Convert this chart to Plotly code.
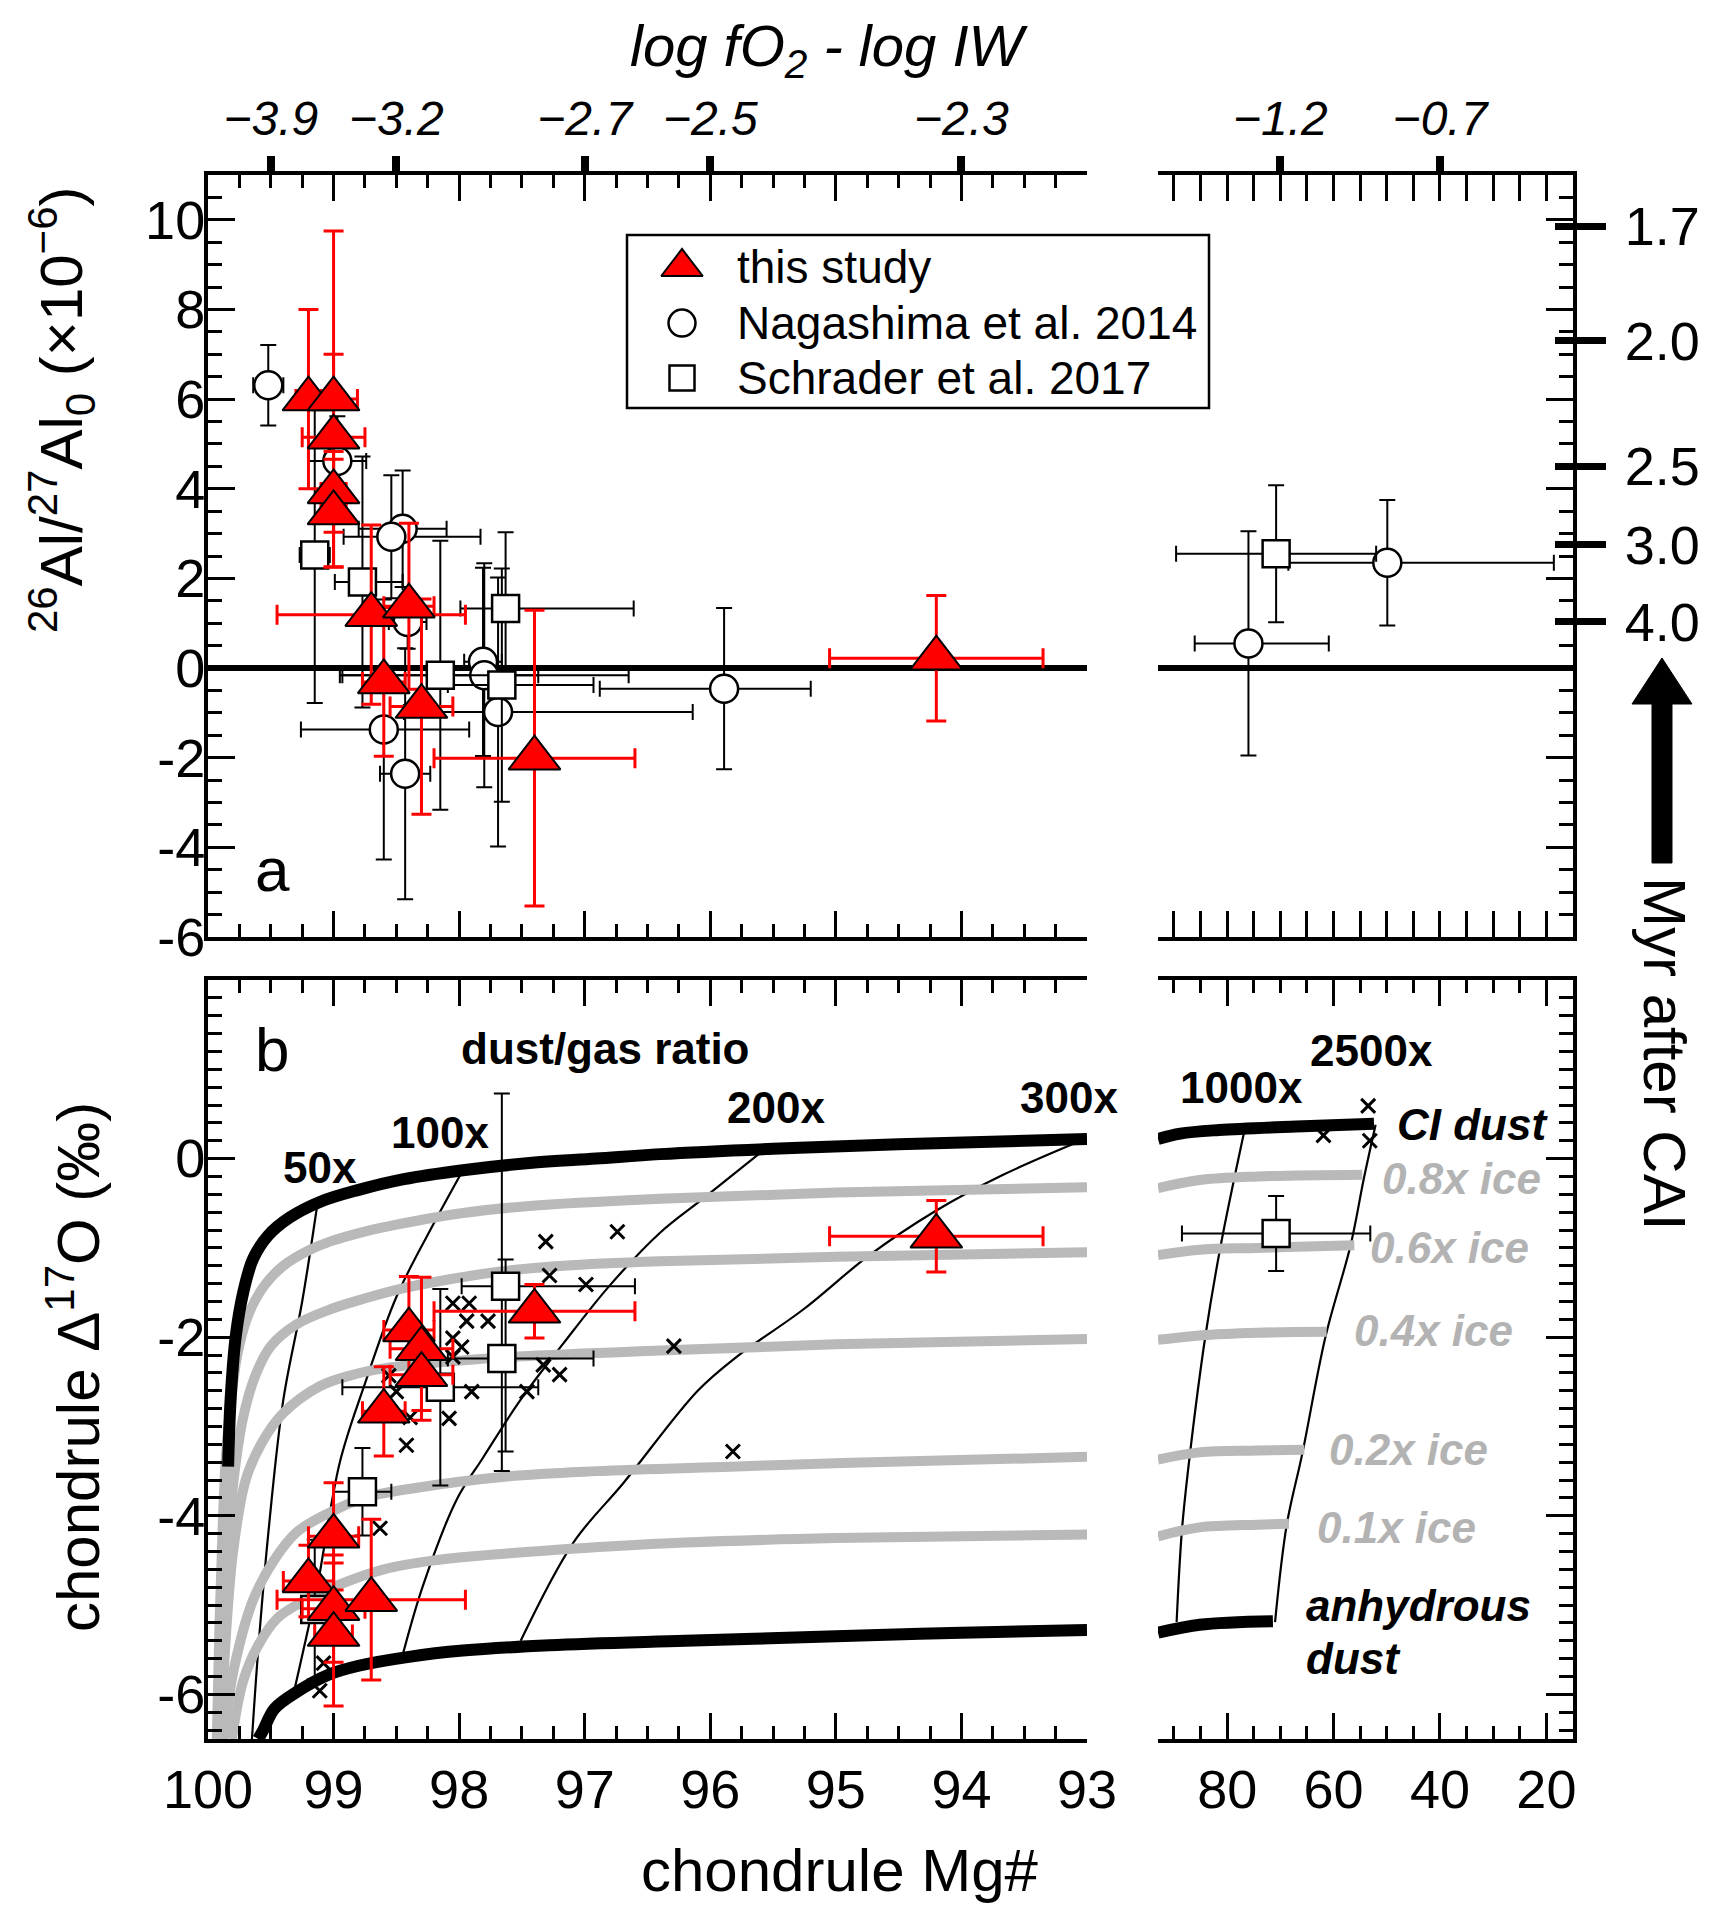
import plotly.graph_objects as go

W, H = 1712, 1920
OFF = 8  # the page body margin shifts the figure by this many pixels
FONT = "Liberation Sans, Arial, Helvetica, sans-serif"
RED = "#ff0000"
GRAY = "#b9b9b9"
GRAYTXT = "#b3b3b3"

# ---------------- tick / axis label data ----------------
mg_left_ticks = [100, 99, 98, 97, 96, 95, 94, 93]
mg_left_labels = ["100", "99", "98", "97", "96", "95", "94", "93"]
mg_right_ticks = [80, 60, 40, 20]
mg_right_labels = ["80", "60", "40", "20"]
al_ticks = [-6, -4, -2, 0, 2, 4, 6, 8, 10]
al_labels = ["-6", "-4", "-2", "0", "2", "4", "6", "8", "10"]
d17_ticks = [-6, -4, -2, 0]
d17_labels = ["-6", "-4", "-2", "0"]
fo2_mg_left = [99.5, 98.5, 97.0, 96.0, 94.0]
fo2_labels_left = ["−3.9", "−3.2", "−2.7", "−2.5", "−2.3"]
fo2_mg_right = [70, 40]
fo2_labels_right = ["−1.2", "−0.7"]
myr_al = [9.85, 7.3, 4.5, 2.75, 1.03]
myr_labels = ["1.7", "2.0", "2.5", "3.0", "4.0"]

# ---------------- panel a: 26Al/27Al0 ----------------
# this study
ts_a_mg = [99.2, 99.0, 99.0, 99.0, 99.0, 98.7, 98.4, 98.6, 98.3, 97.4, 94.2]
ts_a_al = [6.0, 6.0, 5.15, 3.93, 3.46, 1.19, 1.38, -0.31, -0.86, -2.01, 0.22]
ts_a_emg = [0.1, 0.19, 0.25, 0.1, 0.1, 0.75, 0.2, 0.17, 0.25, 0.8, 0.85]
ts_a_eal = [2.0, 3.75, 1.85, 0.9, 1.2, 2.0, 1.85, 1.66, 2.4, 3.3, 1.4]
# Nagashima et al. 2014 (left part)
na_a_mg = [99.52, 98.97, 98.45, 98.54, 98.41, 97.81, 97.80, 97.69, 98.60, 98.43, 95.89]
na_a_al = [6.31, 4.62, 3.11, 2.93, 1.03, 0.14, -0.16, -0.98, -1.37, -2.36, -0.46]
na_a_emg_p = [0.12, 0.23, 0.35, 0.38, 0.15, 0.15, 1.15, 0.75, 0.66, 0.2, 0.99]
na_a_emg_m = [0.12, 0.23, 0.35, 0.71, 0.15, 0.15, 1.15, 1.55, 0.68, 0.2, 0.69]
na_a_eal = [0.9, 1.0, 1.3, 1.37, 0.6, 2.1, 2.5, 3.0, 2.9, 2.8, 1.8]
# Nagashima et al. 2014 (right part)
na_a_mg_r = [76.0, 49.9]
na_a_al_r = [0.55, 2.35]
na_a_emg_p_r = [10.1, 18.6]
na_a_emg_m_r = [15.1, 31.3]
na_a_eal_r = [2.5, 1.4]
# Schrader et al. 2017 (left part)
sc_a_mg = [99.15, 98.77, 97.63, 98.15, 97.66]
sc_a_al = [2.52, 1.92, 1.33, -0.16, -0.38]
sc_a_emg_p = [0.12, 0.22, 0.36, 0.78, 0.43]
sc_a_emg_m = [0.12, 0.32, 1.02, 0.78, 0.73]
sc_a_eal = [3.3, 2.8, 1.7, 3.0, 2.6]
# Schrader et al. 2017 (right part)
sc_a_mg_r = [70.8]
sc_a_al_r = [2.55]
sc_a_emg_r = [18.8]
sc_a_eal_r = [1.53]

# ---------------- panel b: D17O ----------------
ts_b_mg = [99.2, 99.0, 99.0, 99.0, 98.7, 98.6, 98.4, 98.3, 98.3, 97.4, 94.2]
ts_b_d = [-4.73, -4.23, -5.04, -5.33, -4.94, -2.83, -1.92, -2.13, -2.42, -1.71, -0.87]
ts_b_emg = [0.2, 0.2, 0.25, 0.15, 0.75, 0.17, 0.2, 0.25, 0.25, 0.8, 0.85]
ts_b_ed = [0.4, 0.6, 0.6, 0.8, 0.9, 0.5, 0.6, 0.8, 0.4, 0.3, 0.4]

sc_b_mg = [99.15, 98.77, 98.15, 97.63, 97.66]
sc_b_d = [-5.05, -3.73, -2.56, -1.43, -2.24]
sc_b_emg_p = [0.1, 0.23, 0.78, 0.35, 0.43]
sc_b_emg_m = [0.1, 0.23, 0.78, 1.03, 0.73]
sc_b_ed_p = [0.78, 0.49, 1.1, 0.3, 2.97]
sc_b_ed_m = [0.78, 0.49, 1.1, 1.85, 1.26]
sc_b_mg_r = [70.8]
sc_b_d_r = [-0.84]
sc_b_emg_r = [17.7]
sc_b_ed_r = [0.42]

# literature chondrules (crosses)
lit_mg = [97.31, 96.74, 97.28, 96.99, 98.05, 97.92, 97.94, 97.77, 98.05, 97.98,
          98.05, 97.33, 97.20, 97.90, 97.46, 98.50, 98.08, 98.39, 98.42, 98.56,
          98.63, 99.08, 99.11, 96.29, 95.82]
lit_d = [-0.93, -0.82, -1.31, -1.41, -1.62, -1.62, -1.82, -1.82, -2.01, -2.11,
         -2.22, -2.31, -2.42, -2.61, -2.61, -2.61, -2.91, -2.90, -3.21, -2.43,
         -4.14, -5.65, -5.96, -2.10, -3.28]
lit_mg_r = [53.5, 61.9, 53.2]
lit_d_r = [0.59, 0.26, 0.20]

# model curves (Mg#, D17O)
ci_dust = [(99.84, -3.45), (99.82, -2.7), (99.78, -2.0), (99.72, -1.5), (99.64, -1.12),
           (99.52, -0.86), (99.35, -0.66), (99.1, -0.48), (98.8, -0.35), (98.44, -0.23),
           (97.97, -0.13), (97.44, -0.05), (96.91, 0.0), (96.4, 0.05),
           (95.5, 0.11), (94.5, 0.16), (93.0, 0.22)]
ice08 = [(99.93, -6.5), (99.91, -5.3), (99.885, -4.2), (99.86, -3.4), (99.82, -2.75),
         (99.76, -2.15), (99.67, -1.72), (99.55, -1.42), (99.4, -1.2), (99.2, -1.03),
         (99.03, -0.93), (98.76, -0.82), (98.5, -0.74), (97.97, -0.61), (97.44, -0.53),
         (96.4, -0.45), (95.0, -0.38), (93.0, -0.32)]
ice06 = [(99.92, -6.5), (99.89, -5.5), (99.85, -4.5), (99.80, -3.65), (99.72, -2.9),
         (99.62, -2.42), (99.5, -2.1), (99.3, -1.86), (99.03, -1.69), (98.76, -1.57),
         (98.5, -1.47), (98.23, -1.39), (97.7, -1.27), (97.17, -1.2), (96.4, -1.15),
         (95.0, -1.1), (93.0, -1.05)]
ice04 = [(99.90, -6.5), (99.86, -5.4), (99.80, -4.4), (99.70, -3.6), (99.57, -3.18),
         (99.40, -2.85), (99.11, -2.55), (98.87, -2.43), (98.6, -2.35), (97.97, -2.26),
         (97.44, -2.21), (96.4, -2.15), (95.0, -2.08), (93.0, -2.02)]
ice02 = [(99.88, -6.5), (99.79, -5.69), (99.64, -4.94), (99.47, -4.49), (99.29, -4.18),
         (99.04, -3.97), (98.76, -3.80), (98.4, -3.70), (97.62, -3.56), (96.91, -3.50),
         (95.84, -3.45), (94.95, -3.41), (93.0, -3.34)]
ice01 = [(99.81, -6.5), (99.72, -5.85), (99.6, -5.45), (99.45, -5.15), (99.27, -4.98),
         (98.97, -4.78), (98.6, -4.6), (98.2, -4.5), (97.6, -4.42), (97.0, -4.36),
         (96.2, -4.30), (95.0, -4.25), (93.0, -4.21)]
anhydrous = [(99.60, -6.5), (99.56, -6.40), (99.47, -6.16), (99.29, -5.97), (99.04, -5.78),
             (98.8, -5.68), (98.4, -5.58), (97.97, -5.51), (97.28, -5.45), (96.2, -5.40),
             (95.0, -5.35), (94.0, -5.31), (93.0, -5.28)]
ci_dust_r = [(93.0, 0.22), (88.8, 0.28), (81.5, 0.32), (67.0, 0.36), (52.4, 0.39)]
ice08_r = [(93.0, -0.33), (85.2, -0.24), (74.3, -0.20), (54.6, -0.18)]
ice06_r = [(93.0, -1.08), (85.2, -1.02), (74.3, -1.0), (56.1, -0.97)]
ice04_r = [(93.0, -2.03), (85.2, -1.98), (74.3, -1.95), (61.3, -1.94)]
ice02_r = [(93.0, -3.37), (85.2, -3.29), (74.3, -3.27), (65.5, -3.26)]
ice01_r = [(93.0, -4.23), (85.2, -4.13), (74.3, -4.10), (68.4, -4.09)]
anhydrous_r = [(93.0, -5.31), (85.2, -5.22), (71.4, -5.18)]
dg50 = [(99.13, -0.52), (99.25, -1.6), (99.40, -2.70), (99.52, -4.2), (99.60, -5.5), (99.65, -6.5)]
dg100 = [(97.97, -0.13), (98.23, -0.80), (98.50, -1.55), (98.76, -2.56), (98.95, -3.40),
         (99.13, -4.79), (99.27, -5.69), (99.32, -6.0)]
dg200 = [(95.57, 0.10), (96.05, -0.44), (96.40, -0.83), (96.8, -1.42), (97.17, -2.07),
         (97.51, -2.70), (97.81, -3.35), (98.02, -3.82), (98.29, -4.79), (98.45, -5.56)]
dg300 = [(93.03, 0.21), (93.68, -0.19), (94.21, -0.59), (94.74, -1.09), (95.26, -1.69),
         (95.79, -2.22), (96.1, -2.6), (96.69, -3.63), (97.09, -4.30), (97.51, -5.40)]
dg1000 = [(76.8, 0.30), (81.2, -0.97), (84.1, -1.99), (87.0, -3.31), (88.5, -4.16), (89.5, -5.19)]
dg2500 = [(52.1, 0.38), (54.3, -0.22), (56.8, -0.97), (61.5, -1.99), (65.9, -3.31),
          (68.8, -4.10), (71.0, -5.19)]


# ---------------- helpers (page pixel -> paper fraction) ----------------
def px(X):
    return (X - OFF) / W


def py(Y):
    return 1 - (Y - OFF) / H


def err(plus, minus=None, color="black", thick=2, width=8):
    d = dict(type="data", array=plus, color=color, thickness=thick, width=width, visible=True)
    if minus is not None:
        d.update(symmetric=False, arrayminus=minus)
    return d


CIRCLE = dict(symbol="circle", size=28, color="white", line=dict(color="black", width=2.5))
SQUARE = dict(symbol="square", size=27, color="white", line=dict(color="black", width=2.5))
TRI = dict(symbol="triangle-up", size=45, color=RED, line=dict(color="black", width=2))
CROSS = dict(symbol="x-thin", size=14, color="black", line=dict(color="black", width=3))

fig = go.Figure()


def curve(pts, xa, ya, color, width):
    fig.add_trace(go.Scatter(x=[p[0] for p in pts], y=[p[1] for p in pts], mode="lines",
                             line=dict(color=color, width=width, shape="spline", smoothing=1.0),
                             xaxis=xa, yaxis=ya, hoverinfo="skip", showlegend=False))


# ---- panel b curves ----
for pts in [dg50, dg100, dg200, dg300]:
    curve(pts, "x3", "y3", "black", 2.2)
for pts in [dg1000, dg2500]:
    curve(pts, "x4", "y4", "black", 2.2)
for pts in [ice08, ice06, ice04, ice02, ice01]:
    curve(pts, "x3", "y3", GRAY, 10)
for pts in [ice08_r, ice06_r, ice04_r, ice02_r, ice01_r]:
    curve(pts, "x4", "y4", GRAY, 10)
curve(ci_dust, "x3", "y3", "black", 12)
curve(anhydrous, "x3", "y3", "black", 12)
curve(ci_dust_r, "x4", "y4", "black", 12)
curve(anhydrous_r, "x4", "y4", "black", 12)

# ---- panel a points ----
fig.add_trace(go.Scatter(x=na_a_mg, y=na_a_al, mode="markers", marker=CIRCLE, xaxis="x", yaxis="y",
                         error_x=err(na_a_emg_p, na_a_emg_m), error_y=err(na_a_eal),
                         name="Nagashima et al. 2014", showlegend=False))
fig.add_trace(go.Scatter(x=na_a_mg_r, y=na_a_al_r, mode="markers", marker=CIRCLE, xaxis="x2", yaxis="y2",
                         error_x=err(na_a_emg_p_r, na_a_emg_m_r), error_y=err(na_a_eal_r),
                         showlegend=False))
fig.add_trace(go.Scatter(x=sc_a_mg, y=sc_a_al, mode="markers", marker=SQUARE, xaxis="x", yaxis="y",
                         error_x=err(sc_a_emg_p, sc_a_emg_m), error_y=err(sc_a_eal),
                         name="Schrader et al. 2017", showlegend=False))
fig.add_trace(go.Scatter(x=sc_a_mg_r, y=sc_a_al_r, mode="markers", marker=SQUARE, xaxis="x2", yaxis="y2",
                         error_x=err(sc_a_emg_r), error_y=err(sc_a_eal_r), showlegend=False))
fig.add_trace(go.Scatter(x=ts_a_mg, y=ts_a_al, mode="markers", marker=TRI, xaxis="x", yaxis="y",
                         error_x=err(ts_a_emg, color=RED, thick=3, width=10),
                         error_y=err(ts_a_eal, color=RED, thick=3, width=10),
                         name="this study", showlegend=False))

# ---- panel b points ----
fig.add_trace(go.Scatter(x=lit_mg, y=lit_d, mode="markers", marker=CROSS, xaxis="x3", yaxis="y3",
                         showlegend=False))
fig.add_trace(go.Scatter(x=lit_mg_r, y=lit_d_r, mode="markers", marker=CROSS, xaxis="x4", yaxis="y4",
                         showlegend=False))
fig.add_trace(go.Scatter(x=sc_b_mg, y=sc_b_d, mode="markers", marker=SQUARE, xaxis="x3", yaxis="y3",
                         error_x=err(sc_b_emg_p, sc_b_emg_m), error_y=err(sc_b_ed_p, sc_b_ed_m),
                         showlegend=False))
fig.add_trace(go.Scatter(x=sc_b_mg_r, y=sc_b_d_r, mode="markers", marker=SQUARE, xaxis="x4", yaxis="y4",
                         error_x=err(sc_b_emg_r), error_y=err(sc_b_ed_r), showlegend=False))
fig.add_trace(go.Scatter(x=ts_b_mg, y=ts_b_d, mode="markers", marker=TRI, xaxis="x3", yaxis="y3",
                         error_x=err(ts_b_emg, color=RED, thick=3, width=10),
                         error_y=err(ts_b_ed, color=RED, thick=3, width=10), showlegend=False))

# ---- empty traces so the overlay axes are drawn ----
for xa, ya in [("x5", "y"), ("x6", "y2"), ("x2", "y5"), ("x2", "y6")]:
    fig.add_trace(go.Scatter(x=[], y=[], xaxis=xa, yaxis=ya, showlegend=False, hoverinfo="skip"))

# ---- custom legend symbols ----
leg_labels = ["this study", "Nagashima et al. 2014", "Schrader et al. 2017"]
leg_rows = [0.815, 0.491, 0.173]
leg_markers = [dict(TRI, size=36), dict(CIRCLE, size=27), dict(SQUARE, size=25)]
for yy, mk in zip(leg_rows, leg_markers):
    fig.add_trace(go.Scatter(x=[0.0945], y=[yy], mode="markers", marker=mk, xaxis="x7", yaxis="y7",
                             cliponaxis=False, showlegend=False, hoverinfo="skip"))

# ---------------- layout ----------------
XL = [px(208), px(1087)]
XR = [px(1158), px(1573)]
YA = [py(937), py(175)]
YB = [py(1739), py(980)]

base = dict(showline=True, linewidth=4, linecolor="black", showgrid=False, zeroline=False,
            ticks="inside", tickcolor="black", tickwidth=3, automargin=False,
            tickfont=dict(family=FONT, size=54, color="black"))


def minor(dt, t0, ln):
    return dict(ticks="inside", ticklen=ln, tickwidth=3, tickcolor="black", dtick=dt, tick0=t0, showgrid=False)


overlay = dict(showline=False, showgrid=False, zeroline=False, tickcolor="black", automargin=False)

fig.update_layout(
    width=W, height=H, margin=dict(l=0, r=0, t=0, b=0, pad=0, autoexpand=False),
    paper_bgcolor="white", plot_bgcolor="white", showlegend=False,
    font=dict(family=FONT, color="black"),
    xaxis=dict(base, domain=XL, range=[100, 93], anchor="y", mirror="allticks",
               tickmode="array", tickvals=mg_left_ticks, ticklen=26, showticklabels=False,
               minor=minor(0.25, 100, 13)),
    yaxis=dict(base, domain=YA, range=[-6, 11], anchor="x", tickmode="array",
               tickvals=al_ticks, ticktext=al_labels, ticklen=27, ticklabelstandoff=-12,
               minor=minor(0.5, -6, 14)),
    xaxis2=dict(base, domain=XR, range=[93, 15], anchor="y2", mirror="allticks",
                tickmode="array", tickvals=mg_right_ticks, ticklen=26, showticklabels=False,
                minor=minor(5, 0, 13)),
    yaxis2=dict(base, domain=YA, range=[-6, 11], anchor="x2", side="right", tickmode="array",
                tickvals=al_ticks, ticklen=27, showticklabels=False, minor=minor(0.5, -6, 14)),
    xaxis3=dict(base, domain=XL, range=[100, 93], anchor="y3", mirror="allticks",
                tickmode="array", tickvals=mg_left_ticks, ticktext=mg_left_labels, ticklen=26,
                ticklabelstandoff=0, minor=minor(0.25, 100, 13)),
    yaxis3=dict(base, domain=YB, range=[-6.5, 2], anchor="x3", tickmode="array",
                tickvals=d17_ticks, ticktext=d17_labels, ticklen=27, ticklabelstandoff=-12,
                minor=minor(0.2, 0, 14)),
    xaxis4=dict(base, domain=XR, range=[93, 15], anchor="y4", mirror="allticks",
                tickmode="array", tickvals=mg_right_ticks, ticktext=mg_right_labels, ticklen=26,
                ticklabelstandoff=0, minor=minor(5, 0, 13)),
    yaxis4=dict(base, domain=YB, range=[-6.5, 2], anchor="x4", side="right", tickmode="array",
                tickvals=d17_ticks, ticklen=27, showticklabels=False, minor=minor(0.2, 0, 14)),
    xaxis5=dict(overlay, overlaying="x", anchor="y", side="top", range=[100, 93],
                tickmode="array", tickvals=fo2_mg_left, ticktext=fo2_labels_left,
                ticks="outside", ticklen=18, tickwidth=8, ticklabelstandoff=2,
                tickfont=dict(family=FONT, size=48, color="black", style="italic")),
    xaxis6=dict(overlay, overlaying="x2", anchor="y2", side="top", range=[93, 15],
                tickmode="array", tickvals=fo2_mg_right, ticktext=fo2_labels_right,
                ticks="outside", ticklen=18, tickwidth=8, ticklabelstandoff=2,
                tickfont=dict(family=FONT, size=48, color="black", style="italic")),
    yaxis5=dict(overlay, overlaying="y2", anchor="x2", side="right", range=[-6, 11],
                tickmode="array", tickvals=myr_al, ticktext=myr_labels,
                ticks="outside", ticklen=32, tickwidth=7, ticklabelstandoff=8,
                tickfont=dict(family=FONT, size=54, color="black")),
    yaxis6=dict(overlay, overlaying="y2", anchor="x2", side="right", range=[-6, 11],
                tickmode="array", tickvals=myr_al, ticks="inside", ticklen=18, tickwidth=7,
                showticklabels=False),
    xaxis7=dict(domain=[px(627), px(1209)], range=[0, 1], anchor="y7", visible=False, automargin=False),
    yaxis7=dict(domain=[py(408), py(235)], range=[0, 1], anchor="x7", visible=False, automargin=False),
)

shapes = [
    dict(type="line", xref="x domain", yref="y", x0=0, x1=1, y0=0, y1=0,
         line=dict(color="black", width=6), layer="below"),
    dict(type="line", xref="x2 domain", yref="y2", x0=0, x1=1, y0=0, y1=0,
         line=dict(color="black", width=6), layer="below"),
    dict(type="rect", xref="paper", yref="paper", x0=px(627), x1=px(1209), y0=py(408), y1=py(235),
         line=dict(color="black", width=2.5), fillcolor="rgba(0,0,0,0)"),
]
arrow_pts = [(1652, 863), (1672, 863), (1672, 704), (1692, 704), (1662, 658), (1632, 704), (1652, 704)]
path = "M " + " L ".join(f"{px(a):.5f},{py(b):.5f}" for a, b in arrow_pts) + " Z"
shapes.append(dict(type="path", xref="paper", yref="paper", path=path, fillcolor="black",
                   line=dict(color="black", width=1)))
fig.update_layout(shapes=shapes)


def ann(text, X, Y, size, color="black", xanchor="center", angle=0, style="normal"):
    fig.add_annotation(text=text, x=px(X), y=py(Y), xref="paper", yref="paper", showarrow=False,
                       xanchor=xanchor, yanchor="middle", textangle=angle,
                       font=dict(family=FONT, size=size, color=color, style=style))


ann("log fO<sub>2</sub> - log IW", 829, 50, 58, style="italic")
ann("chondrule Mg#", 840, 1870, 60)
ann("<sup>26</sup>Al/<sup>27</sup>Al<sub>0</sub> (×10<sup>−6</sup>)", 62, 410, 60, angle=-90)
ann("chondrule Δ<sup>17</sup>O (‰)", 74, 1367, 60, angle=-90)
ann("Myr after CAI", 1665, 1053, 60, angle=90)
ann("a", 272, 869, 62)
ann("b", 272, 1049, 62)
ann("<b>dust/gas ratio</b>", 605, 1048, 44)
ann("<b>50x</b>", 320, 1167, 44)
ann("<b>100x</b>", 440, 1132, 44)
ann("<b>200x</b>", 776, 1107, 44)
ann("<b>300x</b>", 1069, 1097, 44)
ann("<b>1000x</b>", 1241, 1087, 44)
ann("<b>2500x</b>", 1371, 1050, 44)
ann("<b><i>CI dust</i></b>", 1472, 1124, 44)
ann("<b><i>0.8x ice</i></b>", 1461, 1178, 44, color=GRAYTXT)
ann("<b><i>0.6x ice</i></b>", 1449, 1247, 44, color=GRAYTXT)
ann("<b><i>0.4x ice</i></b>", 1433, 1330, 44, color=GRAYTXT)
ann("<b><i>0.2x ice</i></b>", 1408, 1449, 44, color=GRAYTXT)
ann("<b><i>0.1x ice</i></b>", 1396, 1527, 44, color=GRAYTXT)
ann("<b><i>anhydrous</i></b>", 1304, 1605, 44, xanchor="left")
ann("<b><i>dust</i></b>", 1304, 1658, 44, xanchor="left")
for lab, Y in zip(leg_labels, [267, 323, 378]):
    ann(lab, 735, Y, 46, xanchor="left")

fig.write_html("out.html")
